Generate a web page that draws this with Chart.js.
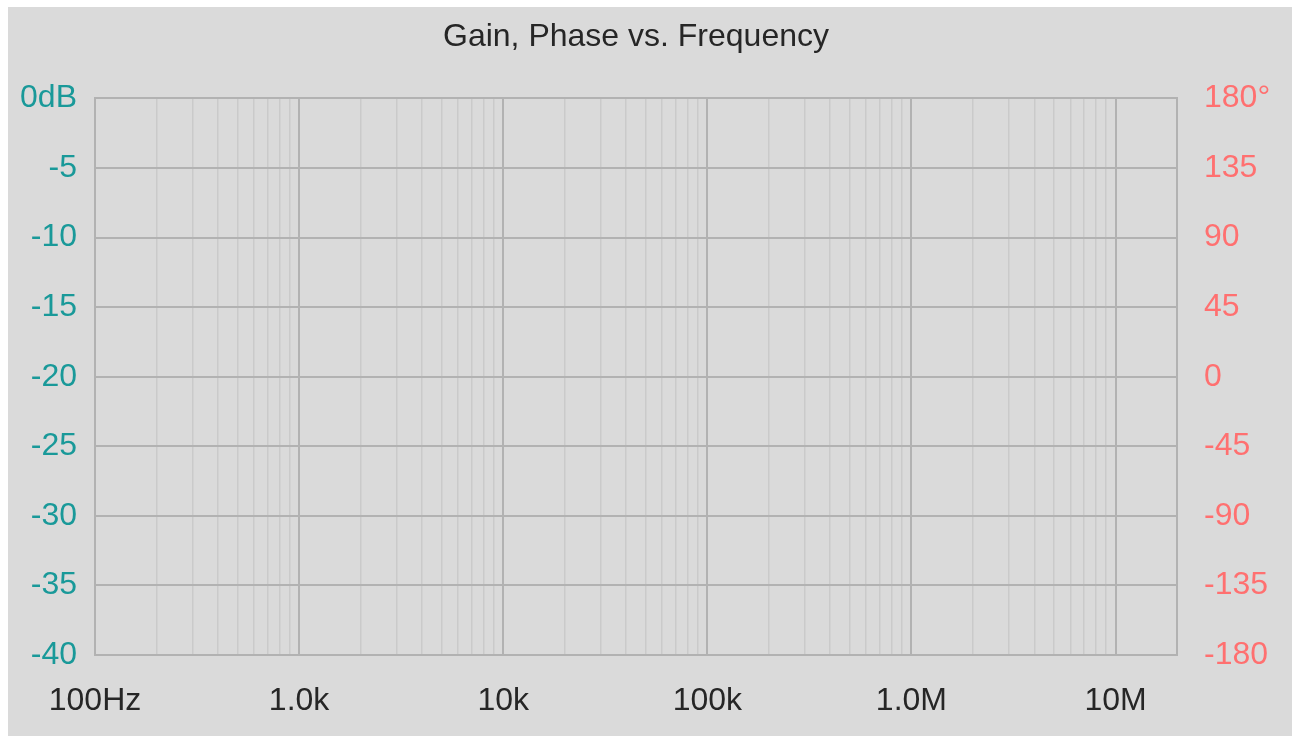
<!DOCTYPE html>
<html>
<head>
<meta charset="utf-8">
<script src="https://cdn.jsdelivr.net/npm/chart.js@4.4.1/dist/chart.umd.min.js"></script>
<style>
  html, body { margin: 0; padding: 0; background: #ffffff; }
  #wrap { position: absolute; left: 8px; top: 7px; width: 1284px; height: 729px; background: #dadada; }
</style>
</head>
<body>
<div id="wrap"><canvas id="bode"></canvas></div>
<script>
// frequency axis (log), decades with labels
const decades = [100, 1e3, 1e4, 1e5, 1e6, 1e7];
const decadeLabels = ['100Hz', '1.0k', '10k', '100k', '1.0M', '10M'];
const minorSteps = [2, 3, 4, 5, 6, 7, 8, 9];
const freqMin = 100;
const freqMax = 2e7;

// gain axis (left) and phase axis (right)
const gainMin = -40, gainMax = 0, gainStep = 5;
const phaseMin = -180, phaseMax = 180, phaseStep = 45;

// no traces plotted in the reference
const gainData = [];
const phaseData = [];

const FONT = "'Liberation Sans', Arial, sans-serif";
const MAJOR = '#b2b2b2';
const MINOR = '#cacaca';

const isDecade = v => Math.abs(Math.log10(v) - Math.round(Math.log10(v))) < 1e-9;

new Chart(document.getElementById('bode'), {
  type: 'line',
  data: {
    datasets: [
      { label: 'Gain', data: gainData, yAxisID: 'gain', borderColor: '#199999' },
      { label: 'Phase', data: phaseData, yAxisID: 'phase', borderColor: '#ff7070' }
    ]
  },
  options: {
    responsive: true,
    maintainAspectRatio: false,
    animation: false,
    layout: { padding: 0 },
    plugins: {
      legend: { display: false },
      tooltip: { enabled: false },
      title: {
        display: true,
        fullSize: false,
        text: 'Gain, Phase vs. Frequency',
        color: '#262626',
        font: { family: FONT, size: 32, weight: 'normal' },
        padding: { top: 11, bottom: 42 }
      }
    },
    scales: {
      x: {
        type: 'logarithmic',
        min: freqMin,
        max: freqMax,
        afterBuildTicks: scale => {
          const ticks = [];
          decades.forEach(d => {
            ticks.push({ value: d });
            minorSteps.forEach(m => {
              if (d * m < freqMax) ticks.push({ value: d * m });
            });
          });
          scale.ticks = ticks;
        },
        afterFit: scale => { scale.height = 81; },
        ticks: {
          autoSkip: false,
          maxRotation: 0,
          padding: 27,
          color: '#262626',
          font: { family: FONT, size: 32 },
          callback: v => {
            const i = decades.indexOf(v);
            return i >= 0 ? decadeLabels[i] : '';
          }
        },
        grid: {
          drawTicks: false,
          color: c => (c.tick && isDecade(c.tick.value)) ? MAJOR : MINOR,
          lineWidth: c => (c.tick && isDecade(c.tick.value)) ? 2 : 1.5
        },
        border: { color: MAJOR, width: 2 }
      },
      gain: {
        type: 'linear',
        position: 'left',
        min: gainMin,
        max: gainMax,
        afterFit: scale => { scale.width = 87; },
        ticks: {
          stepSize: gainStep,
          padding: 18,
          color: '#199999',
          font: { family: FONT, size: 32 },
          callback: v => v === 0 ? '0dB' : String(v)
        },
        grid: { drawTicks: false, color: MAJOR, lineWidth: 2 },
        border: { color: MAJOR, width: 2 }
      },
      phase: {
        type: 'linear',
        position: 'right',
        min: phaseMin,
        max: phaseMax,
        afterFit: scale => { scale.width = 115; },
        ticks: {
          stepSize: phaseStep,
          padding: 27,
          color: '#ff7070',
          font: { family: FONT, size: 32 },
          callback: v => v === 180 ? '180°' : String(v)
        },
        grid: { drawTicks: false, drawOnChartArea: false },
        border: { color: MAJOR, width: 2 }
      }
    }
  }
});
</script>
</body>
</html>
